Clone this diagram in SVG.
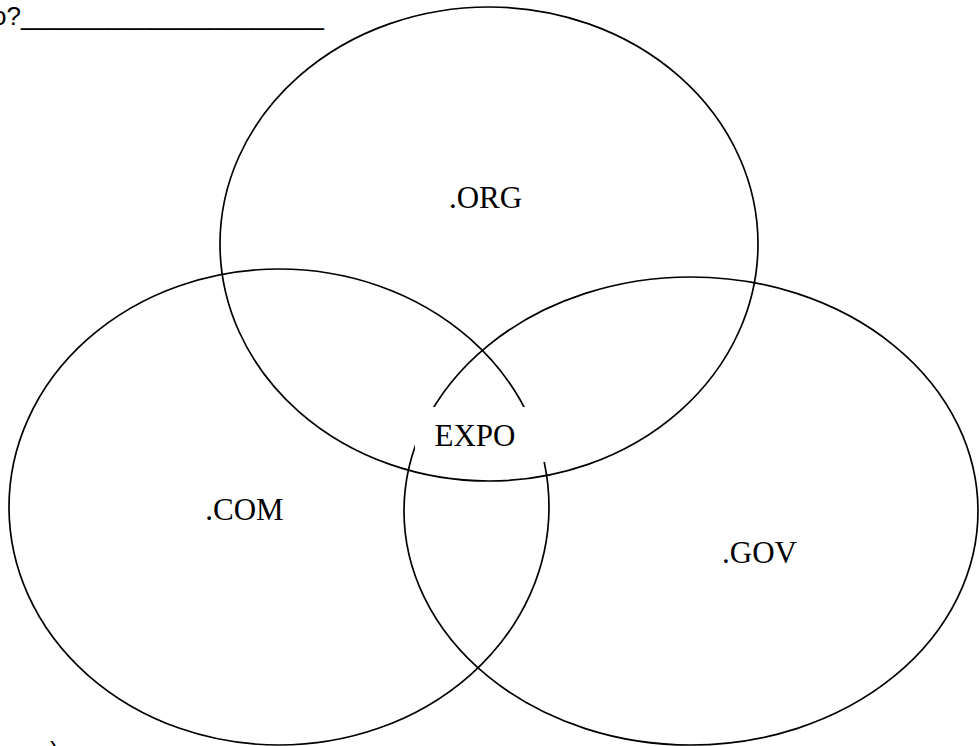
<svg xmlns="http://www.w3.org/2000/svg" width="979" height="746" viewBox="0 0 979 746">
<style>
.set{fill:none;stroke:#000;stroke-width:1.7}
.lbl{font-family:"Liberation Serif","Times New Roman",serif;font-size:31px;fill:#000;text-anchor:middle}
.hdr{font-family:"Liberation Sans",Arial,sans-serif;font-size:26px;fill:#000}
</style>
<rect width="979" height="746" fill="#fff"/>
<text class="hdr" x="-8" y="25">o?</text>
<text class="hdr" x="21" y="25" textLength="303" lengthAdjust="spacingAndGlyphs">_____________________</text>
<text class="hdr" x="50" y="760">)</text>
<g id="com"><ellipse class="set" cx="279" cy="507" rx="270" ry="238"/></g>
<g id="gov"><ellipse class="set" cx="691" cy="511" rx="287" ry="234"/></g>
<g id="expo"><rect x="415" y="407" width="131" height="55" fill="#fff"/><text class="lbl" x="475" y="446">EXPO</text></g>
<g id="org"><ellipse class="set" cx="489" cy="244" rx="269" ry="237"/><text class="lbl" x="485.5" y="208">.ORG</text></g>
<g id="com-label"><text class="lbl" x="244.5" y="520">.COM</text></g>
<g id="gov-label"><text class="lbl" x="759.5" y="563">.GOV</text></g>
<g id="connectors"></g>
</svg>
